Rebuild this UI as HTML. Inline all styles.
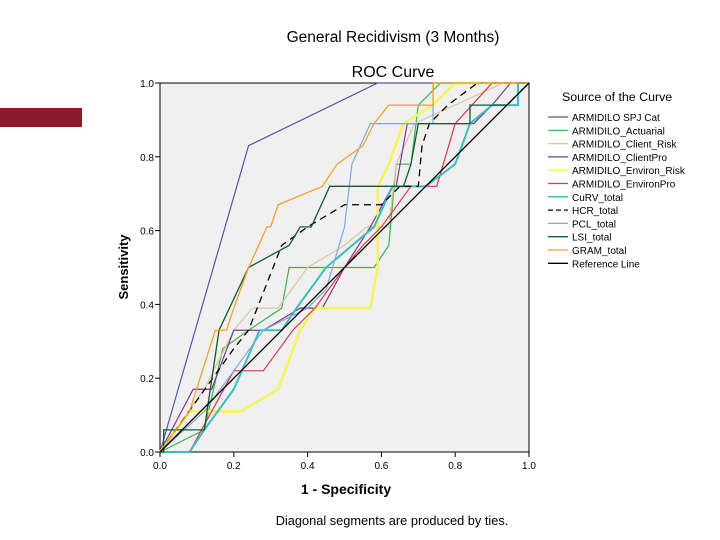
<!DOCTYPE html>
<html><head><meta charset="utf-8"><style>
body{margin:0;background:#fff;width:720px;height:540px;overflow:hidden;font-family:"Liberation Sans",sans-serif}
</style></head><body>
<div style="position:absolute;left:0;top:108px;width:82px;height:19px;background:#8b1a2a"></div>
<svg id="c" width="720" height="540" style="position:absolute;left:0;top:0">
<text x="393" y="42" font-size="15.5" text-anchor="middle">General Recidivism (3 Months)</text>
<text x="393" y="77" font-size="16" text-anchor="middle">ROC Curve</text>
<rect x="160" y="83" width="369" height="369" fill="#f0f0f0" stroke="#000" stroke-width="1"/>
<g id="axes"></g><g id="series"></g>
<text x="346" y="494" font-size="14" font-weight="bold" text-anchor="middle">1 - Specificity</text>
<text transform="translate(128,267) rotate(-90)" font-size="13" font-weight="bold" text-anchor="middle">Sensitivity</text>
<text x="392" y="525" font-size="12.8" text-anchor="middle">Diagonal segments are produced by ties.</text>
<text x="562" y="101" font-size="12.4">Source of the Curve</text>
<g id="legend"></g>
</svg>
<script>
const ticks=[0,0.2,0.4,0.6,0.8,1.0];
const tickLabels=["0.0","0.2","0.4","0.6","0.8","1.0"];
const names=["ARMIDILO SPJ Cat","ARMIDILO_Actuarial","ARMIDILO_Client_Risk","ARMIDILO_ClientPro","ARMIDILO_Environ_Risk","ARMIDILO_EnvironPro","CuRV_total","HCR_total","PCL_total","LSI_total","GRAM_total","Reference Line"];
const colors=["#4b5aa8","#3ab54a","#d8c89a","#7a3c8c","#f7f35a","#d8384a","#3cbcc0","#000","#80a8d8","#145a32","#f0a030","#000"];
const spjX=[0,0.24,0.59,1],spjY=[0,0.83,1,1];
const actX=[0,0.12,0.17,0.24,0.33,0.35,0.58,0.62,0.64,0.68,0.7,0.76,1],actY=[0,0.06,0.28,0.33,0.39,0.5,0.5,0.56,0.78,0.78,0.94,1,1];
const crX=[0,0.12,0.2,0.25,0.32,0.4,0.5,0.56,0.62,0.64,0.69,0.93,1],crY=[0,0.17,0.33,0.39,0.39,0.5,0.56,0.61,0.61,0.78,0.89,1,1];
const cpX=[0,0.09,0.14,0.2,0.28,0.38,0.44,0.5,0.57,0.63,0.64,0.67,0.85,0.9,0.95,1],cpY=[0,0.17,0.17,0.33,0.33,0.39,0.39,0.5,0.61,0.72,0.72,0.89,0.89,0.94,1,1];
const erX=[0,0.08,0.22,0.32,0.38,0.42,0.57,0.59,0.59,0.62,0.66,0.74,0.8,1],erY=[0,0.11,0.11,0.17,0.33,0.39,0.39,0.5,0.72,0.78,0.89,0.94,1,1];
const epX=[0,0.08,0.2,0.28,0.36,0.42,0.5,0.55,0.6,0.68,0.75,0.8,0.9,1],epY=[0,0,0.22,0.22,0.33,0.39,0.5,0.56,0.61,0.72,0.72,0.89,1,1];
const cuX=[0,0.08,0.12,0.2,0.27,0.33,0.37,0.45,0.58,0.63,0.72,0.8,0.84,0.9,0.97,0.97,1],cuY=[0,0,0.06,0.17,0.33,0.33,0.39,0.5,0.61,0.72,0.72,0.78,0.89,0.94,0.94,1,1];
const hcX=[0,0.2,0.24,0.33,0.4,0.5,0.6,0.65,0.7,0.71,0.73,0.78,0.86,1],hcY=[0,0.28,0.33,0.56,0.61,0.67,0.67,0.72,0.72,0.83,0.89,0.94,1,1];
const pcX=[0,0.12,0.28,0.4,0.45,0.5,0.52,0.57,0.74,0.74,1],pcY=[0,0.11,0.33,0.39,0.44,0.61,0.78,0.89,0.89,1,1];
const lsX=[0,0.01,0.01,0.12,0.16,0.24,0.35,0.38,0.41,0.46,0.66,0.68,0.7,0.84,0.84,0.94,1],lsY=[0,0,0.06,0.06,0.33,0.5,0.56,0.61,0.61,0.72,0.72,0.78,0.89,0.89,0.94,0.94,1];
const grX=[0,0.08,0.15,0.18,0.2,0.24,0.29,0.3,0.32,0.44,0.48,0.55,0.58,0.62,0.74,0.74,1],grY=[0,0.11,0.33,0.33,0.39,0.5,0.61,0.61,0.67,0.72,0.78,0.83,0.89,0.94,0.94,1,1];
const refX=[0,1],refY=[0,1];
const seriesX=[spjX,actX,crX,cpX,erX,epX,cuX,hcX,pcX,lsX,grX,refX];
const seriesY=[spjY,actY,crY,cpY,erY,epY,cuY,hcY,pcY,lsY,grY,refY];
const widths=[1.2,1.2,1.2,1.2,2.5,1.2,2,1.3,1.2,1.3,1.3,1.3];
const X=v=>160+v*369, Y=v=>452-v*369;
const NS="http://www.w3.org/2000/svg";
const ax=document.getElementById('axes');
ticks.forEach((t,i)=>{
 let l=document.createElementNS(NS,'line');l.setAttribute('x1',X(t));l.setAttribute('x2',X(t));l.setAttribute('y1',452);l.setAttribute('y2',457);l.setAttribute('stroke','#000');
 
 ax.appendChild(l);
 let tx=document.createElementNS(NS,'text');tx.setAttribute('x',X(t));tx.setAttribute('y',469);tx.setAttribute('font-size','10');tx.setAttribute('text-anchor','middle');tx.textContent=tickLabels[i];
 
 ax.appendChild(tx);
 let l2=document.createElementNS(NS,'line');l2.setAttribute('x1',155);l2.setAttribute('x2',160);l2.setAttribute('y1',Y(t));l2.setAttribute('y2',Y(t));l2.setAttribute('stroke','#000');
 
 ax.appendChild(l2);
 let ty=document.createElementNS(NS,'text');ty.setAttribute('x',154);ty.setAttribute('y',Y(t)+4);ty.setAttribute('font-size','10');ty.setAttribute('text-anchor','end');ty.textContent=tickLabels[i];
 
 ax.appendChild(ty);
});
const sg=document.getElementById('series'),lg=document.getElementById('legend');
seriesX.forEach((xs,i)=>{
 const p=document.createElementNS(NS,'polyline');
 p.setAttribute('points',xs.map((x,j)=>X(x)+','+Y(seriesY[i][j])).join(' '));
 p.setAttribute('fill','none');p.setAttribute('stroke',colors[i]);p.setAttribute('stroke-width',widths[i]);
 if(i===7)p.setAttribute('stroke-dasharray','7,5');
 
 
 sg.appendChild(p);
 const y=117+i*13.3;
 const l=document.createElementNS(NS,'line');l.setAttribute('x1',548);l.setAttribute('x2',568);l.setAttribute('y1',y);l.setAttribute('y2',y);l.setAttribute('stroke',colors[i]);l.setAttribute('stroke-width',Math.min(widths[i],1.5));
 if(i===7)l.setAttribute('stroke-dasharray','5,3');
 
 lg.appendChild(l);
 const t=document.createElementNS(NS,'text');t.setAttribute('x',572);t.setAttribute('y',y+4);t.setAttribute('font-size','10');t.textContent=names[i];
 
 lg.appendChild(t);
});
</script>
</body></html>
